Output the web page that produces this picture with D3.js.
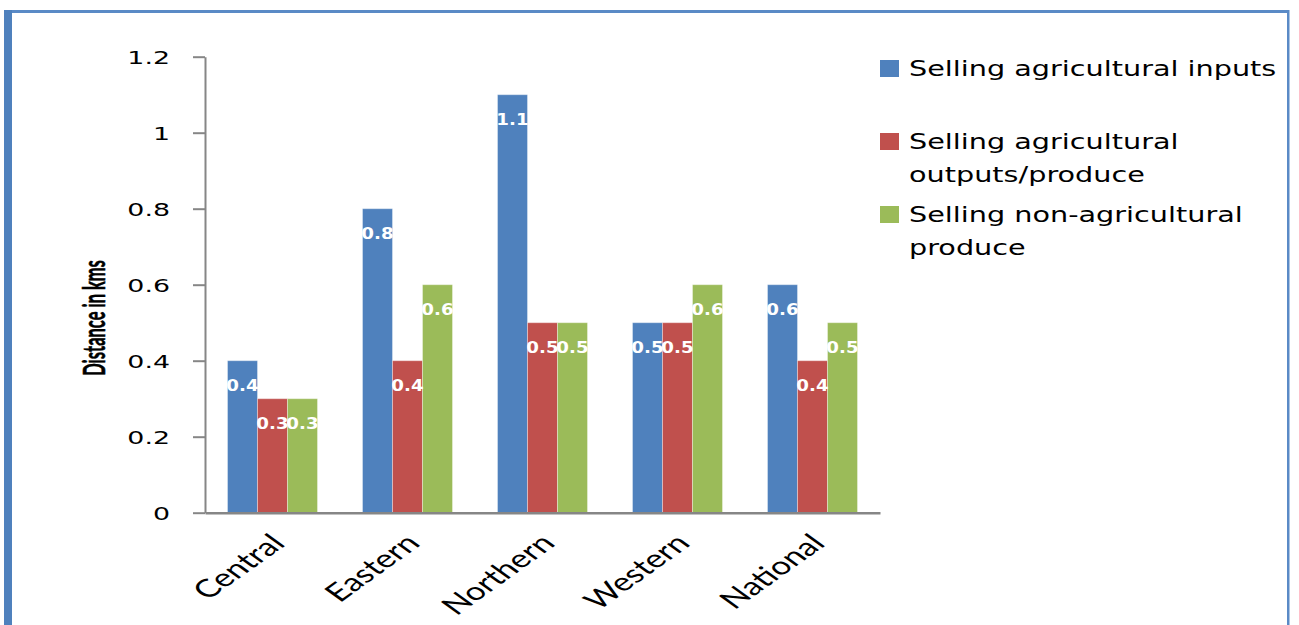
<!DOCTYPE html>
<html>
<head>
<meta charset="utf-8">
<script src="https://cdn.jsdelivr.net/npm/d3@7"></script>
<style>
  html, body { margin: 0; padding: 0; background: #fff; }
  svg { display: block; }
</style>
</head>
<body>
<svg id="chart" width="1299" height="625"></svg>
<script>
// Average distance (km) to the nearest market, by region and purpose
const categories = ["Central", "Eastern", "Northern", "Western", "National"];
const seriesNames = [
  "Selling agricultural inputs",
  "Selling agricultural outputs/produce",
  "Selling non-agricultural produce"
];
const agriInputs   = [0.4, 0.8, 1.1, 0.5, 0.6];
const agriOutputs  = [0.3, 0.4, 0.5, 0.5, 0.4];
const nonAgri      = [0.3, 0.6, 0.5, 0.6, 0.5];
const yTickValues  = [0, 0.2, 0.4, 0.6, 0.8, 1, 1.2];
const yTickLabels  = ["0", "0.2", "0.4", "0.6", "0.8", "1", "1.2"];
const legendLines  = [
  ["Selling agricultural inputs"],
  ["Selling agricultural", "outputs/produce"],
  ["Selling non-agricultural", "produce"]
];
const yTitle = "Distance in kms";

const colors = ["#4F81BD", "#C0504D", "#9BBB59"];
const seriesValues = [agriInputs, agriOutputs, nonAgri];
const SX = 1.4; // horizontal stretch applied to the text

const svg = d3.select("#chart");

// frame
svg.append("rect").attr("x", 4).attr("y", 10).attr("width", 1285).attr("height", 3).attr("fill", "#5A8AC6");
svg.append("rect").attr("x", 4).attr("y", 10).attr("width", 8).attr("height", 620).attr("fill", "#4F81BD");
svg.append("rect").attr("x", 1287).attr("y", 10).attr("width", 2.5).attr("height", 620).attr("fill", "#5A8AC6");

const x0 = d3.scaleBand().domain(categories).range([205, 880]).paddingInner(1/3).paddingOuter(1/6);
const x1 = d3.scaleBand().domain(d3.range(seriesNames.length)).range([0, x0.bandwidth()]);
const y = d3.scaleLinear().domain([0, 1.2]).range([512.7, 56.7]);

// bars
const groups = svg.append("g").selectAll("g")
  .data(categories).join("g")
  .attr("transform", d => `translate(${x0(d)},0)`);

groups.selectAll("rect")
  .data((c, ci) => seriesValues.map((vals, si) => ({ si, v: vals[ci] })))
  .join("rect")
  .attr("x", d => x1(d.si))
  .attr("y", d => y(d.v))
  .attr("width", x1.bandwidth())
  .attr("height", d => y(0) - y(d.v))
  .attr("fill", d => colors[d.si])
  .attr("stroke", "rgba(255,255,255,0.35)")
  .attr("stroke-width", 1);

// value labels
groups.selectAll("text")
  .data((c, ci) => seriesValues.map((vals, si) => ({ si, v: vals[ci] })))
  .join("text")
  .attr("transform", d => `translate(${x1(d.si) + x1.bandwidth() / 2},${y(d.v) + 30.5}) scale(1.14,1)`)
  .attr("text-anchor", "middle")
  .attr("font-family", "DejaVu Sans")
  .attr("font-weight", "bold")
  .attr("font-size", 16)
  .attr("fill", "#fff")
  .text(d => d3.format("")(d.v));

// y axis
const yAxis = svg.append("g")
  .attr("transform", "translate(205,0)")
  .call(d3.axisLeft(y).tickValues(yTickValues)
    .tickFormat((d, i) => yTickLabels[i]).tickSize(12).tickSizeOuter(0));
yAxis.selectAll("path, line").attr("stroke", "#868686").attr("stroke-width", 2);
yAxis.selectAll("text")
  .attr("x", null).attr("dy", null)
  .attr("transform", `translate(-35,7) scale(1.45,1)`)
  .attr("text-anchor", "end")
  .attr("font-family", "DejaVu Sans")
  .attr("font-size", 18.5)
  .attr("fill", "#000");

// x axis
const xAxis = svg.append("g")
  .attr("transform", `translate(0,${y(0)})`)
  .call(d3.axisBottom(x0).tickSize(0).tickSizeOuter(0));
xAxis.select("path").attr("stroke", "#868686").attr("stroke-width", 2.5);
xAxis.selectAll("text")
  .attr("y", null).attr("dy", null)
  .attr("transform", `translate(14,32) scale(${SX},1) rotate(-45)`)
  .attr("text-anchor", "end")
  .attr("font-family", "Lato")
  .attr("font-size", 25)
  .attr("fill", "#000");

// y axis title
svg.append("text")
  .attr("transform", `translate(105,318) scale(1.9,1) rotate(-90)`)
  .attr("text-anchor", "middle")
  .attr("font-family", "Lato")
  .attr("font-weight", "bold")
  .attr("font-size", 16.5)
  .attr("fill", "#000")
  .attr("stroke", "#000")
  .attr("stroke-width", 0.3)
  .text(yTitle);

// legend
const legendSwatchY = [60, 133, 206];
const legendBaseY = [76, 149, 222];
const legend = svg.append("g");
legendLines.forEach((lines, i) => {
  legend.append("rect")
    .attr("x", 880).attr("y", legendSwatchY[i])
    .attr("width", 19).attr("height", 17)
    .attr("fill", colors[i]);
  lines.forEach((ln, j) => {
    legend.append("text")
      .attr("transform", `translate(909,${legendBaseY[i] + j * 33}) scale(${SX},1)`)
      .attr("font-family", "DejaVu Sans")
      .attr("font-size", 20.5)
      .attr("fill", "#000")
      .text(ln);
  });
});
</script>
</body>
</html>
